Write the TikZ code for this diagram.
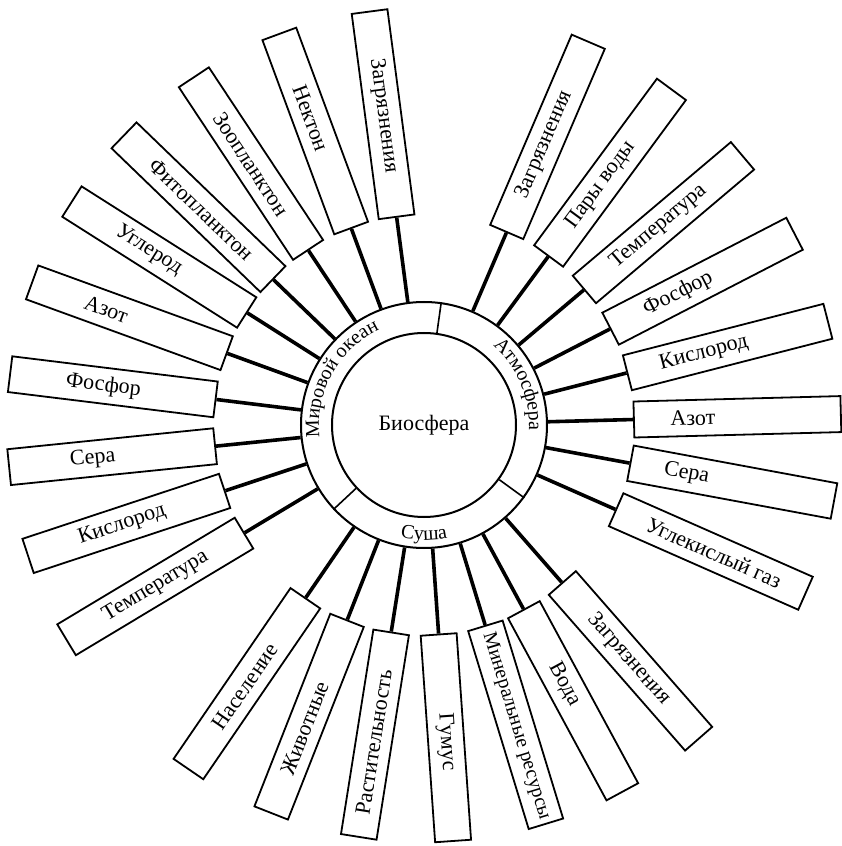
\documentclass[tikz,border=0pt]{standalone}
\usepackage{fontspec}
\setmainfont{Liberation Serif}
\usepackage{tikz}
\usetikzlibrary{decorations.text}

\newcommand{\ringfont}{\fontsize{10}{12}\selectfont}
\newcommand{\leaffont}{\fontsize{11}{13}\selectfont}

\begin{document}
\begin{tikzpicture}[
  x=0.5pt, y=0.5pt,
  shell/.style={circle, draw, line width=1pt, inner sep=0pt},
  leaf/.style={draw, line width=0.9pt, minimum width=103.5pt, minimum height=18pt,
               inner sep=0pt},
  leaftext/.style={font=\leaffont, inner sep=0pt},
  spoke/.style={line width=1.8pt},
  ringtext/.style={decorate, decoration={text along path, text align=center,
                   text={#1}}}
]
  \useasboundingbox (-424,-421) rectangle (417,425);

  % Biosphere and its shells
  \node[shell, minimum size=123pt] (ring) at (0,0) {};
  \node[shell, minimum size=92pt, font=\leaffont] (bio) at (0,0) {Биосфера};
  \foreach \d in {82, -36, 223}
    \draw[line width=0.8pt] (bio.\d) -- (ring.\d);

  \path[ringtext={|\ringfont|Мировой океан}]
    (200:105) arc[start angle=200, end angle=102, radius=105];
  \path[ringtext={|\ringfont|Атмосфера}]
    (72:105) arc[start angle=72, end angle=-26, radius=105];
  \path[ringtext={|\ringfont|Суша}]
    (234.5:115) arc[start angle=234.5, end angle=305.5, radius=115];

  % Components, angle / text radius
  \foreach \i/\a/\r/\txt in {
     1/97.5/312/Загрязнения,
     2/110.3/327/Нектон,
     3/123.5/313/Зоопланктон,
     4/136/310/Фитопланктон,
     5/147.6/326/Углерод,
     6/160/338/Азот,
     7/173/323/Фосфор,
     8/185.8/333/Сера,
     9/198.3/318/Кислород,
    10/211/313/Температура,
    11/235.6/317/Население,
    12/248.5/326/Животные,
    13/261/321/Растительность,
    14/274/318/Гумус,
    15/287/315/{\fontsize{10}{12}\selectfont Минеральные ресурсы},
    16/298.4/295/Вода,
    17/311.2/311/Загрязнения,
    18/336.2/317/Углекислый газ,
    19/349.5/267/Сера,
    20/1.5/269/Азот,
    21/14.4/289/Кислород,
    22/27.3/286/Фосфор,
    23/40.2/307/Температура,
    24/53.6/298/Пары воды,
    25/66.8/305/Загрязнения}{
    \pgfmathsetmacro{\rot}{\a-180*round(\a/180)}
    \node[leaf, rotate=\rot] (b\i) at (\a:313.5) {};
    \node[leaftext, rotate=\rot] (t\i) at (\a:\r) {\txt};
    \draw[spoke] (ring) -- (b\i);
  }
\end{tikzpicture}
\end{document}
